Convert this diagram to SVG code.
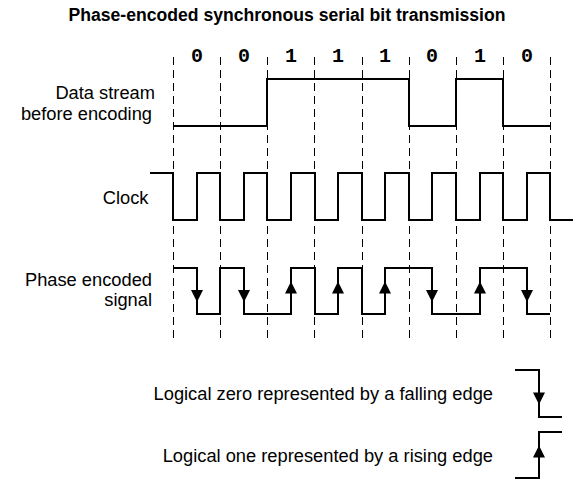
<svg xmlns="http://www.w3.org/2000/svg" width="575" height="480" viewBox="0 0 575 480">
<style>
.lbl{font-family:"Liberation Sans",Arial,sans-serif;font-size:18.3px;fill:#000}
.ttl{font-family:"Liberation Sans",Arial,sans-serif;font-size:17.6px;font-weight:bold;fill:#000}
.bit{font-family:"Liberation Mono","Courier New",monospace;font-size:20px;font-weight:bold;fill:#000;text-anchor:middle}
.sig{fill:none;stroke:#000;stroke-width:2;stroke-linejoin:miter}
.grid{stroke:#000;stroke-width:1;stroke-dasharray:8,5}
.arr{fill:#000}
</style>
<defs>
<polygon id="dn" class="arr" points="-6,-1 6,-1 0,11"/>
<polygon id="up" class="arr" points="-6,2.5 6,2.5 0,-9.5"/>
</defs>
<rect width="575" height="480" fill="#fff"/>
<text class="ttl" x="287" y="20.5" text-anchor="middle">Phase-encoded synchronous serial bit transmission</text>
<g id="grid">
<line class="grid" x1="173.5" y1="57" x2="173.5" y2="338"/>
<line class="grid" x1="220.5" y1="57" x2="220.5" y2="338"/>
<line class="grid" x1="267.5" y1="57" x2="267.5" y2="338"/>
<line class="grid" x1="314.5" y1="57" x2="314.5" y2="338"/>
<line class="grid" x1="362.5" y1="57" x2="362.5" y2="338"/>
<line class="grid" x1="409.5" y1="57" x2="409.5" y2="338"/>
<line class="grid" x1="456.5" y1="57" x2="456.5" y2="338"/>
<line class="grid" x1="503.5" y1="57" x2="503.5" y2="338"/>
<line class="grid" x1="550.5" y1="57" x2="550.5" y2="338"/>
</g>
<g id="bits">
<text class="bit" x="197" y="62">0</text>
<text class="bit" x="244" y="62">0</text>
<text class="bit" x="291" y="62">1</text>
<text class="bit" x="338" y="62">1</text>
<text class="bit" x="385" y="62">1</text>
<text class="bit" x="432" y="62">0</text>
<text class="bit" x="480" y="62">1</text>
<text class="bit" x="527" y="62">0</text>
</g>
<g id="data">
<text class="lbl" x="155" y="99" text-anchor="end">Data stream</text>
<text class="lbl" x="152" y="120" text-anchor="end">before encoding</text>
<path class="sig" d="M173,126 H267 V79 H409 V126 H456 V79 H503 V126 H550"/>
</g>
<g id="clock">
<text class="lbl" x="148.5" y="204" text-anchor="end">Clock</text>
<path class="sig" d="M150,173 H173 V220 H197 V173 H220 V220 H244 V173 H267 V220 H291 V173 H315 V220 H338 V173 H362 V220 H385 V173 H409 V220 H432 V173 H456 V220 H480 V173 H503 V220 H527 V173 H550 V220 H573"/>
</g>
<g id="phase">
<text class="lbl" x="152" y="286" text-anchor="end">Phase encoded</text>
<text class="lbl" x="152" y="306" text-anchor="end">signal</text>
<path class="sig" d="M173,268 H197 V314 H220 V268 H244 V314 H291 V268 H315 V314 H338 V268 H362 V314 H385 V268 H432 V314 H480 V268 H527 V314 H550"/>
<use href="#dn" x="197" y="291"/>
<use href="#dn" x="244" y="291"/>
<use href="#up" x="291" y="291"/>
<use href="#up" x="338" y="291"/>
<use href="#up" x="385" y="291"/>
<use href="#dn" x="432" y="291"/>
<use href="#up" x="480" y="291"/>
<use href="#dn" x="527" y="291"/>
</g>
<g id="legend-zero">
<text class="lbl" x="493" y="399.5" text-anchor="end">Logical zero represented by a falling edge</text>
<path class="sig" d="M515,370 H539 V417 H562"/>
<use href="#dn" x="539" y="393.5"/>
</g>
<g id="legend-one">
<text class="lbl" x="493" y="461.5" text-anchor="end">Logical one represented by a rising edge</text>
<path class="sig" d="M515,478 H539 V432 H562"/>
<use href="#up" x="539" y="455"/>
</g>
</svg>
